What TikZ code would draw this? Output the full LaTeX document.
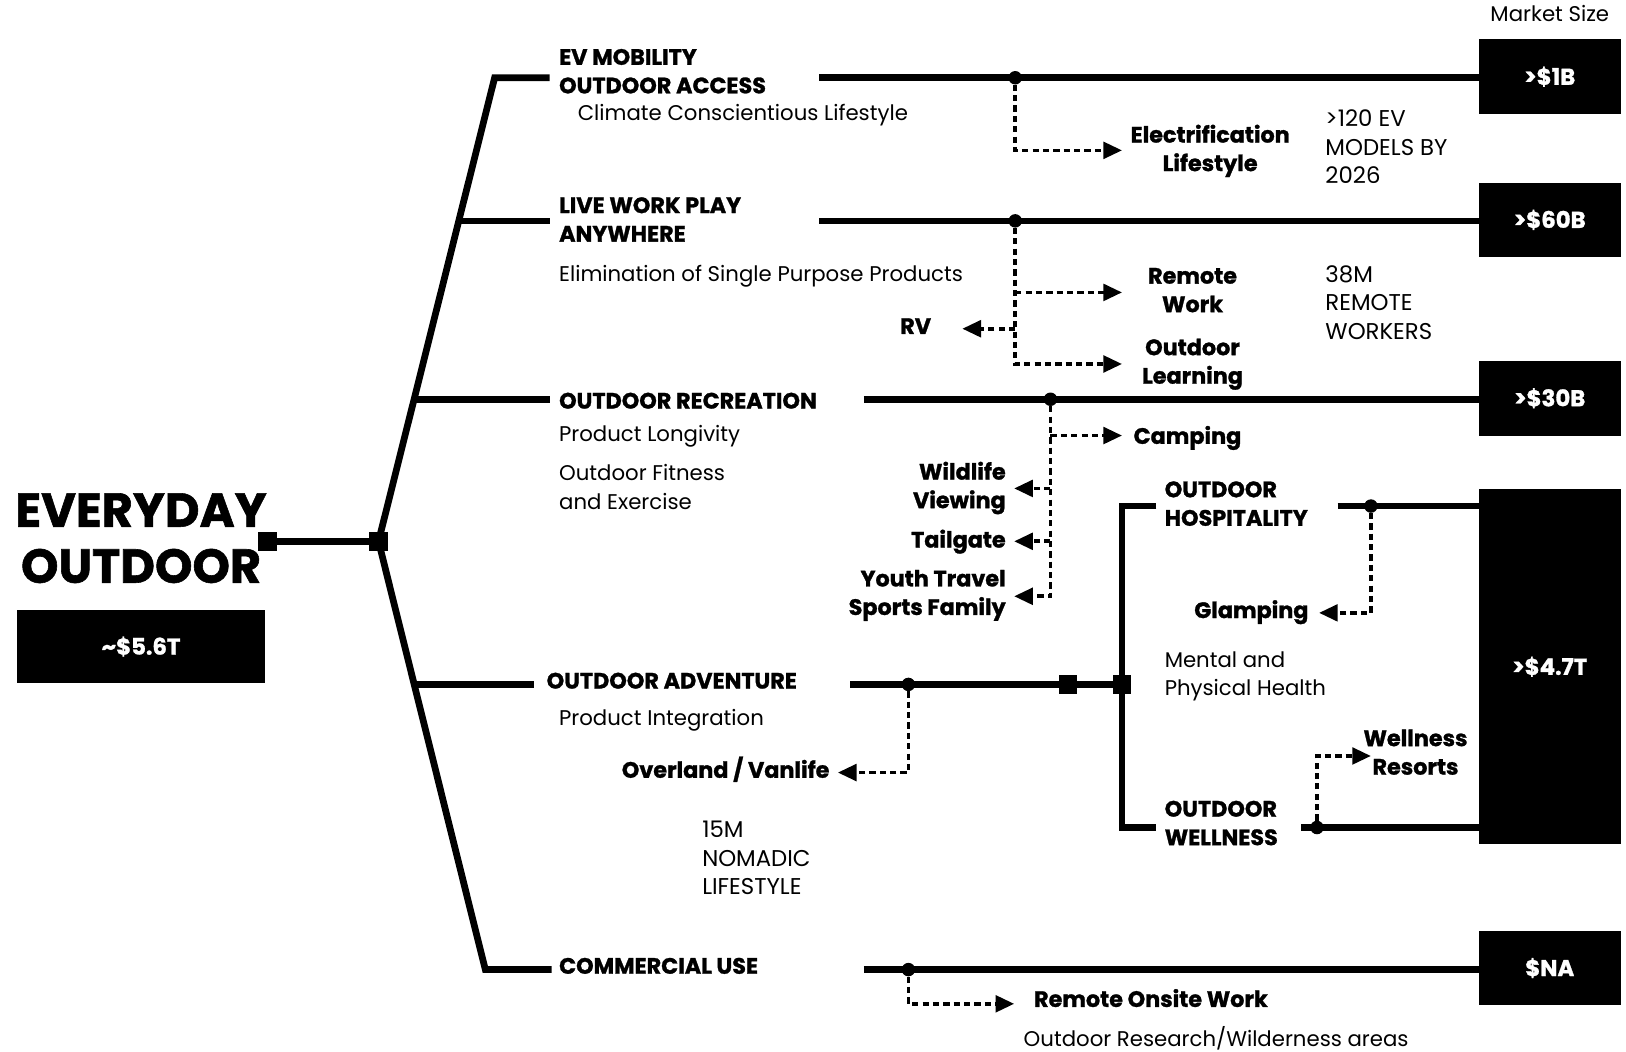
\documentclass[tikz,border=0pt]{standalone}
\usepackage{fontspec}
\setmainfont{Poppins}[BoldFeatures={FakeBold=1.2}]
\usetikzlibrary{arrows.meta}
\begin{document}
\begin{tikzpicture}[x=1pt,y=-1pt,
  main/.style={line width=6.5pt},
  dsh/.style={line width=3.5pt, dash pattern=on 6pt off 4pt, -{Triangle[length=18pt,width=16pt]}},
  lbl/.style={font=\fontsize{21.5}{27.5}\selectfont\bfseries, inner sep=0pt},
  txt/.style={font=\fontsize{20.5}{27.5}\selectfont, inner sep=0pt},
  ctxt/.style={font=\fontsize{22}{27.5}\selectfont, inner sep=0pt},
  mbox/.style={fill=black, inner sep=0pt, text=white, font=\fontsize{22}{26}\selectfont\bfseries},
  jdot/.style={circle, fill=black, inner sep=0pt, minimum size=13pt},
  jsq/.style={fill=black, inner sep=0pt, minimum size=18pt},
]
\useasboundingbox (0,0) rectangle (1568,1014);

% ---------- title ----------
\node[font=\fontsize{46}{54}\selectfont\bfseries, align=center, inner sep=0pt] (title) at (136,519) {EVERYDAY\\OUTDOOR};
\node[mbox, minimum width=240pt, minimum height=71pt] (total) at (136,623.5) {\textasciitilde\$5.6T};

% ---------- market boxes ----------
\node[txt, anchor=base] (ms) at (1494.5,21) {Market Size};
\node[mbox, minimum width=137pt, minimum height=72pt] (b1) at (1494.5,74) {>\$1B};
\node[mbox, minimum width=137pt, minimum height=72pt] (b2) at (1494.5,212) {>\$60B};
\node[mbox, minimum width=137pt, minimum height=72pt] (b3) at (1494.5,384) {>\$30B};
\node[mbox, minimum width=137pt, minimum height=342pt] (b4) at (1494.5,643) {>\$4.7T};
\node[mbox, minimum width=137pt, minimum height=71pt] (b5) at (1494.5,933.5) {\$NA};

% ---------- trunk ----------
\node[jsq] (sqL) at (258,522) {};
\node[jsq] (sqJ) at (365,522) {};
\coordinate (top) at (477,75);
\coordinate (bot) at (468,935);
\coordinate (s1) at (530,75);
\coordinate (s2) at (530,213);
\coordinate (s3) at (530,385);
\coordinate (s4) at (515,660);
\coordinate (s5) at (532,935);
\draw[main] (sqL.center) -- (sqJ.center);
\draw[main, line join=miter] (s1) -- (top) -- (sqJ.center) -- (bot) -- (s5);
\draw[main] (442,213) -- (s2);
\draw[main] (399,385) -- (s3);
\draw[main] (399,660) -- (s4);

% ---------- category labels (base = last line) ----------
\node[lbl, anchor=base west, align=left] (ev) at (539,90) {EV MOBILITY\\OUTDOOR ACCESS};
\node[txt, anchor=base west] (ccl) at (557,116) {Climate Conscientious Lifestyle};
\node[lbl, anchor=base west, align=left] (lwp) at (539,233) {LIVE WORK PLAY\\ANYWHERE};
\node[txt, anchor=base west] (esp) at (539,271) {Elimination of Single Purpose Products};
\node[lbl, anchor=base west] (rec) at (539,394) {OUTDOOR RECREATION};
\node[txt, anchor=base west] (pl) at (539,426) {Product Longivity};
\node[txt, anchor=base west, align=left] (ofe) at (539,491) {Outdoor Fitness\\and Exercise};
\node[lbl, anchor=base west] (adv) at (527,664) {OUTDOOR ADVENTURE};
\node[txt, anchor=base west] (pi) at (539,700) {Product Integration};
\node[ctxt, anchor=base west, align=left] (nom) at (677,863) {15M\\NOMADIC\\LIFESTYLE};
\node[lbl, anchor=base west] (com) at (539,939) {COMMERCIAL USE};

% ---------- row lines ----------
\coordinate (r1) at (790,75);
\coordinate (r2) at (790,213);
\coordinate (r3) at (833,385);
\coordinate (r4) at (820,660);
\coordinate (r5) at (833,935);
\draw[main] (r1) -- (r1 -| b1.west);
\draw[main] (r2) -- (r2 -| b2.west);
\draw[main] (r3) -- (r3 -| b3.west);
\draw[main] (r5) -- (r5 -| b5.west);
\node[jsq] (sqA) at (1030,660) {};
\draw[main] (r4) -- (1082,660);

% hospitality / wellness bracket
\coordinate (hT) at (1082,488);
\coordinate (hB) at (1082,798);
\coordinate (hTs) at (1115,488);
\coordinate (hBs) at (1115,798);
\coordinate (hR) at (1290,488);
\coordinate (wR) at (1255,798);
\draw[main, line join=miter] (hTs) -- (hT) -- (hB) -- (hBs);
\draw[main] (hR) -- (hR -| b4.west);
\draw[main] (wR) -- (wR -| b4.west);
\node[jsq] (sqB) at (1082,660) {};
\node[lbl, anchor=base west, align=left] (hosp) at (1123,507) {OUTDOOR\\HOSPITALITY};
\node[lbl, anchor=base west, align=left] (well) at (1123,815) {OUTDOOR\\WELLNESS};
\node[txt, anchor=base west, align=left] (mph) at (1123,671) {Mental and\\Physical Health};

% ---------- junction dots ----------
\node[jdot] (d1) at (979,75) {};
\node[jdot] (d2) at (979,213) {};
\node[jdot] (d3) at (1013,385) {};
\node[jdot] (d4) at (876,660) {};
\node[jdot] (d5) at (876,935) {};
\node[jdot] (dh) at (1322,488) {};
\node[jdot] (dw) at (1270,798) {};

% ---------- leaf labels (base = last line) ----------
\node[lbl, anchor=base, align=center] (elec) at (1167,165) {Electrification\\Lifestyle};
\node[ctxt, anchor=base west, align=left] (evm) at (1278,177) {>120 EV\\MODELS BY\\2026};
\node[lbl, anchor=base, align=center] (rw) at (1150,301) {Remote\\Work};
\node[lbl, anchor=base] (rv) at (883,322) {RV};
\node[lbl, anchor=base, align=center] (ol) at (1150,370) {Outdoor\\Learning};
\node[ctxt, anchor=base west, align=left] (rwk) at (1278,327) {38M\\REMOTE\\WORKERS};
\node[lbl, anchor=base west] (camp) at (1093,428) {Camping};
\node[lbl, anchor=base east, align=right] (wild) at (970,490) {Wildlife\\Viewing};
\node[lbl, anchor=base east] (tail) at (970,528) {Tailgate};
\node[lbl, anchor=base east, align=right] (youth) at (970,593) {Youth Travel\\Sports Family};
\node[lbl, anchor=base east] (glamp) at (1262,596) {Glamping};
\node[lbl, anchor=base, align=center] (wres) at (1365,747) {Wellness\\Resorts};
\node[lbl, anchor=base east] (over) at (800,750) {Overland / Vanlife};
\node[lbl, anchor=base west] (row) at (997,971) {Remote Onsite Work};
\node[txt, anchor=base west] (orw) at (987,1009) {Outdoor Research/Wilderness areas};

% ---------- dashed connectors ----------
\coordinate (t1) at (1082,145);
\coordinate (t2a) at (1082,282);
\coordinate (t2b) at (928,317);
\coordinate (t2c) at (1082,351);
\coordinate (t3a) at (1082,420);
\coordinate (t3b) at (978,471);
\coordinate (t3c) at (978,522);
\coordinate (t3d) at (978,575);
\coordinate (t4) at (808,745);
\coordinate (th) at (1272,591);
\coordinate (tw) at (1322,729);
\coordinate (t5) at (978,968);
\draw[dsh] (d1) |- (t1);
\draw[dsh] (d2) |- (t2c);
\draw[dsh] (d2 |- t2a) -- (t2a);
\draw[dsh] (d2 |- t2b) -- (t2b);
\draw[dsh] (d3) |- (t3d);
\draw[dsh] (d3 |- t3a) -- (t3a);
\draw[dsh] (d3 |- t3b) -- (t3b);
\draw[dsh] (d3 |- t3c) -- (t3c);
\draw[dsh] (d4) |- (t4);
\draw[dsh] (dh) |- (th);
\draw[dsh] (dw) |- (tw);
\draw[dsh] (d5) |- (t5);
\end{tikzpicture}
\end{document}
